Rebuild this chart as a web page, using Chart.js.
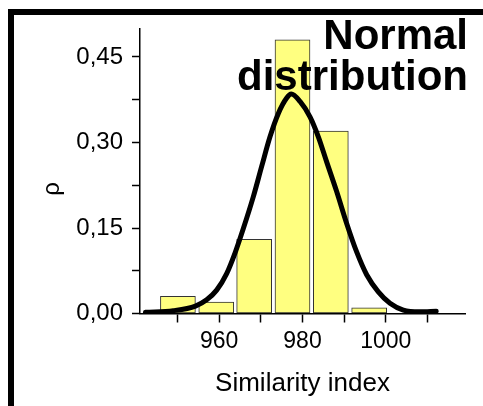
<!DOCTYPE html>
<html>
<head>
<meta charset="utf-8">
<script src="https://cdn.jsdelivr.net/npm/chart.js@4.4.1/dist/chart.umd.min.js"></script>
<style>
  html, body { margin: 0; padding: 0; background: #fff; }
  #wrap { position: relative; width: 483px; height: 406px; }
</style>
</head>
<body>
<div id="wrap"><canvas id="histChart"></canvas></div>
<script>
// histogram bins (centre of each bin) and relative frequency
var binCenters = [950.1, 959.3, 968.4, 977.6, 986.8, 996.0];
var binFreq = [0.03, 0.02, 0.13, 0.48, 0.32, 0.01];

// fitted normal curve
var curveX = [942.3, 949, 954.3, 957, 959.4, 961.8, 963.8, 965.8, 968.2, 970.2, 972.2, 974.2, 976.2, 977.3,
              979.4, 981.8, 983.8, 985.8, 988.2, 990.6, 993, 995.4, 998.2, 1001, 1004.2, 1008.1, 1012.1];
var curveY = [0.002, 0.005, 0.013, 0.024, 0.041, 0.07, 0.106, 0.149, 0.205, 0.258, 0.31, 0.351, 0.378, 0.385,
              0.372, 0.345, 0.31, 0.266, 0.214, 0.158, 0.108, 0.068, 0.038, 0.018, 0.006, 0.003, 0.004];

var xTicks = [950, 960, 970, 980, 990, 1000, 1010];
var yTicks = [0, 0.075, 0.15, 0.225, 0.3, 0.375, 0.45];
var titleLines = ["Normal", "distribution"];
var yLabel = "\u03C1";
var xLabel = "Similarity index";

var FONT = "'Liberation Sans', Arial, sans-serif";
Chart.defaults.font.family = FONT;
Chart.defaults.color = "#000";

var decorPlugin = {
    id: "decor",
    afterDraw: function (chart) {
        var ctx = chart.ctx;
        ctx.save();
        // frame
        ctx.fillStyle = "#000";
        ctx.fillRect(8, 9, 480, 6);
        ctx.fillRect(8, 9, 6, 400);
        // y axis label
        ctx.translate(59, 189);
        ctx.rotate(-Math.PI / 2);
        ctx.font = "24px " + FONT;
        ctx.textAlign = "center";
        ctx.textBaseline = "alphabetic";
        ctx.fillText(yLabel, 0, 0);
        ctx.restore();
    },
    afterDatasetsDraw: function (chart) {
        var ctx = chart.ctx;
        ctx.save();
        ctx.fillStyle = "#000";
        ctx.font = "bold 42px " + FONT;
        ctx.textAlign = "right";
        ctx.textBaseline = "alphabetic";
        ctx.fillText(titleLines[0], 468, 48.5);
        ctx.fillText(titleLines[1], 468, 89.5);
        ctx.restore();
    }
};

var ctx = document.getElementById("histChart").getContext("2d");
var histChart = new Chart(ctx, {
    type: "bar",
    data: {
        datasets: [{
            type: "line",
            data: curveX.map(function (x, i) { return { x: x, y: curveY[i] }; }),
            borderColor: "#000",
            borderWidth: 5,
            borderCapStyle: "round",
            pointRadius: 0,
            cubicInterpolationMode: "monotone",
            fill: false,
            order: 0
        }, {
            type: "bar",
            data: binCenters.map(function (x, i) { return { x: x, y: binFreq[i] }; }),
            backgroundColor: "#FFFF80",
            borderColor: "#333333",
            borderWidth: 1,
            borderSkipped: false,
            barThickness: 35,
            order: 1
        }]
    },
    options: {
        responsive: true,
        maintainAspectRatio: false,
        devicePixelRatio: 1,
        animation: false,
        layout: {
            padding: { left: 0, right: 18, top: 28.5, bottom: 0 }
        },
        scales: {
            x: {
                type: "linear",
                position: "bottom",
                offset: false,
                min: 941,
                max: 1019,
                afterBuildTicks: function (axis) {
                    axis.ticks = xTicks.map(function (v) { return { value: v }; });
                },
                afterFit: function (scale) { scale.height = 92.5; },
                ticks: {
                    autoSkip: false,
                    maxRotation: 0,
                    padding: 5,
                    font: { size: 23 },
                    color: "#000",
                    callback: function (v) { return v % 20 === 0 ? String(v) : ""; }
                },
                grid: {
                    display: true,
                    offset: false,
                    drawOnChartArea: false,
                    drawTicks: true,
                    tickLength: 9,
                    tickColor: "#000",
                    tickWidth: 1.5
                },
                border: { display: true, color: "#000", width: 1.5 },
                title: {
                    display: true,
                    text: xLabel,
                    color: "#000",
                    font: { size: 26 },
                    padding: { top: 0, bottom: 7 }
                }
            },
            y: {
                type: "linear",
                min: 0,
                max: 0.5,
                afterBuildTicks: function (axis) {
                    axis.ticks = yTicks.map(function (v) { return { value: v }; });
                },
                afterFit: function (scale) { scale.width = 140; },
                ticks: {
                    autoSkip: false,
                    padding: 9,
                    font: { size: 24 },
                    color: "#000",
                    callback: function (v) {
                        return Math.round(v * 1000) % 150 === 0 ? v.toFixed(2).replace(".", ",") : "";
                    }
                },
                grid: {
                    display: true,
                    drawOnChartArea: false,
                    drawTicks: true,
                    tickLength: 8,
                    tickColor: "#000",
                    tickWidth: 1.5
                },
                border: { display: true, color: "#000", width: 1.5 }
            }
        },
        plugins: {
            legend: { display: false },
            tooltip: { enabled: false },
            title: { display: false }
        }
    },
    plugins: [decorPlugin]
});
</script>
</body>
</html>
